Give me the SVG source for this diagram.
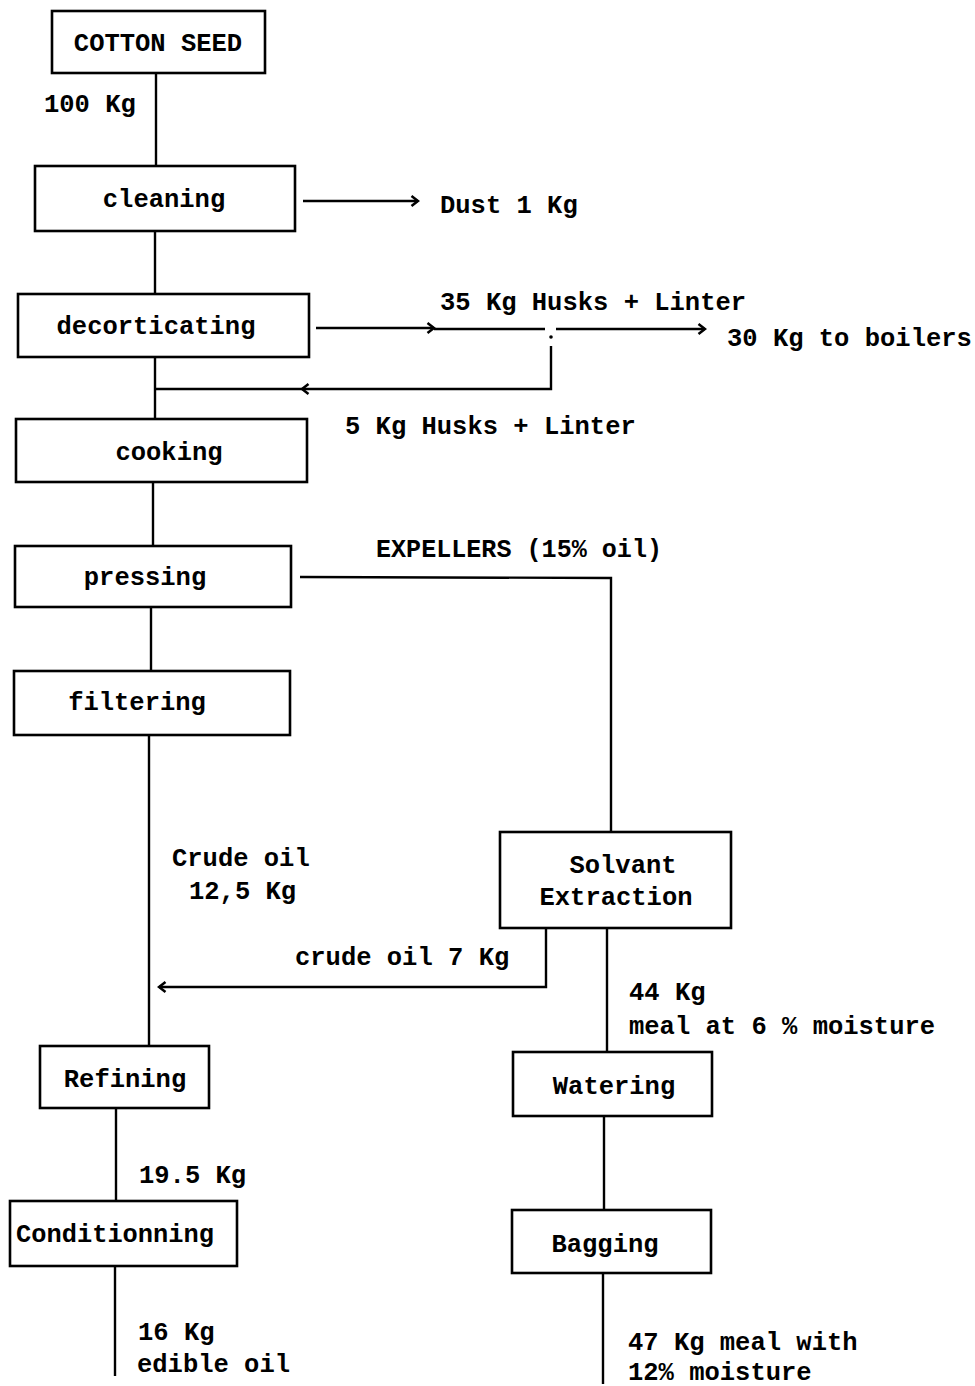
<svg xmlns="http://www.w3.org/2000/svg" width="975" height="1386" viewBox="0 0 975 1386">
  <style>
    .box { fill: #fff; stroke: #000; stroke-width: 2.6; }
    .ln { fill: none; stroke: #000; stroke-width: 2.4; }
    text { font-family: "Liberation Mono", "DejaVu Sans Mono", monospace; font-weight: bold; font-size: 25.5px; fill: #000; }
    .mid { text-anchor: middle; }
  </style>
  <defs>
    <marker id="chev" viewBox="0 0 10 14" refX="8" refY="7" markerWidth="10" markerHeight="14" markerUnits="userSpaceOnUse" orient="auto">
      <path d="M1.5,2 L8,7 L1.5,12" fill="none" stroke="#000" stroke-width="2.6"/>
    </marker>
  </defs>
  <rect width="975" height="1386" fill="#fff"/>

  <g id="connectors">
    <!-- main oil line -->
    <line class="ln" x1="156" y1="73" x2="156" y2="165"/>
    <line class="ln" x1="155" y1="231" x2="155" y2="293"/>
    <line class="ln" x1="155" y1="357" x2="155" y2="418"/>
    <line class="ln" x1="153" y1="482" x2="153" y2="545"/>
    <line class="ln" x1="151" y1="607" x2="151" y2="670"/>
    <line class="ln" x1="149" y1="735" x2="149" y2="1045"/>
    <line class="ln" x1="116" y1="1108" x2="116" y2="1200"/>
    <line class="ln" x1="115" y1="1266" x2="115" y2="1376"/>
    <!-- dust out of cleaning -->
    <line class="ln" x1="303" y1="201" x2="418" y2="201" marker-end="url(#chev)"/>
    <!-- husks and linter split -->
    <line class="ln" x1="316" y1="328" x2="434" y2="328" marker-end="url(#chev)"/>
    <line class="ln" x1="434" y1="329" x2="545" y2="329"/>
    <circle cx="551" cy="337" r="1.8" fill="#000"/>
    <line class="ln" x1="556" y1="329" x2="705" y2="329" marker-end="url(#chev)"/>
    <polyline class="ln" points="551,346 551,389 302,389" marker-end="url(#chev)"/>
    <line class="ln" x1="302" y1="389" x2="155" y2="389"/>
    <!-- expellers to solvent extraction -->
    <polyline class="ln" points="300,577 611,578 611,832"/>
    <!-- crude oil back to refining -->
    <polyline class="ln" points="546,928 546,987 159,987" marker-end="url(#chev)"/>
    <!-- meal line -->
    <line class="ln" x1="607" y1="928" x2="607" y2="1052"/>
    <line class="ln" x1="604" y1="1116" x2="604" y2="1210"/>
    <line class="ln" x1="603" y1="1273" x2="603" y2="1384"/>
  </g>

  <g id="n-cotton-seed">
    <rect class="box" x="52" y="11" width="213" height="62"/>
    <text class="mid" x="158" y="51">COTTON SEED</text>
  </g>
  <g id="n-cleaning">
    <rect class="box" x="35" y="166" width="260" height="65"/>
    <text class="mid" x="164" y="207">cleaning</text>
  </g>
  <g id="n-decorticating">
    <rect class="box" x="18" y="294" width="291" height="63"/>
    <text class="mid" x="156" y="334">decorticating</text>
  </g>
  <g id="n-cooking">
    <rect class="box" x="16" y="419" width="291" height="63"/>
    <text class="mid" x="169" y="460">cooking</text>
  </g>
  <g id="n-pressing">
    <rect class="box" x="15" y="546" width="276" height="61"/>
    <text class="mid" x="145" y="585">pressing</text>
  </g>
  <g id="n-filtering">
    <rect class="box" x="14" y="671" width="276" height="64"/>
    <text class="mid" x="137" y="710">filtering</text>
  </g>
  <g id="n-solvant">
    <rect class="box" x="500" y="832" width="231" height="96"/>
    <text class="mid" x="623" y="873">Solvant</text>
    <text class="mid" x="616" y="905">Extraction</text>
  </g>
  <g id="n-refining">
    <rect class="box" x="40" y="1046" width="169" height="62"/>
    <text class="mid" x="125" y="1087">Refining</text>
  </g>
  <g id="n-conditionning">
    <rect class="box" x="10" y="1201" width="227" height="65"/>
    <text x="16" y="1242" textLength="198" lengthAdjust="spacingAndGlyphs">Conditionning</text>
  </g>
  <g id="n-watering">
    <rect class="box" x="513" y="1052" width="199" height="64"/>
    <text class="mid" x="614" y="1094">Watering</text>
  </g>
  <g id="n-bagging">
    <rect class="box" x="512" y="1210" width="199" height="63"/>
    <text class="mid" x="605" y="1252">Bagging</text>
  </g>

  <g id="labels">
    <text x="44" y="112">100 Kg</text>
    <text x="440" y="213">Dust 1 Kg</text>
    <text x="440" y="310">35 Kg Husks + Linter</text>
    <text x="727" y="346">30 Kg to boilers</text>
    <text x="345" y="434">5 Kg Husks + Linter</text>
    <text x="376" y="557" textLength="286" lengthAdjust="spacingAndGlyphs">EXPELLERS (15% oil)</text>
    <text x="172" y="866">Crude oil</text>
    <text x="189" y="899">12,5 Kg</text>
    <text x="295" y="965">crude oil 7 Kg</text>
    <text x="629" y="1000">44 Kg</text>
    <text x="629" y="1034">meal at 6 % moisture</text>
    <text x="139" y="1183">19.5 Kg</text>
    <text x="138" y="1340">16 Kg</text>
    <text x="137" y="1372">edible oil</text>
    <text x="628" y="1350">47 Kg meal with</text>
    <text x="628" y="1380">12% moisture</text>
  </g>
</svg>
